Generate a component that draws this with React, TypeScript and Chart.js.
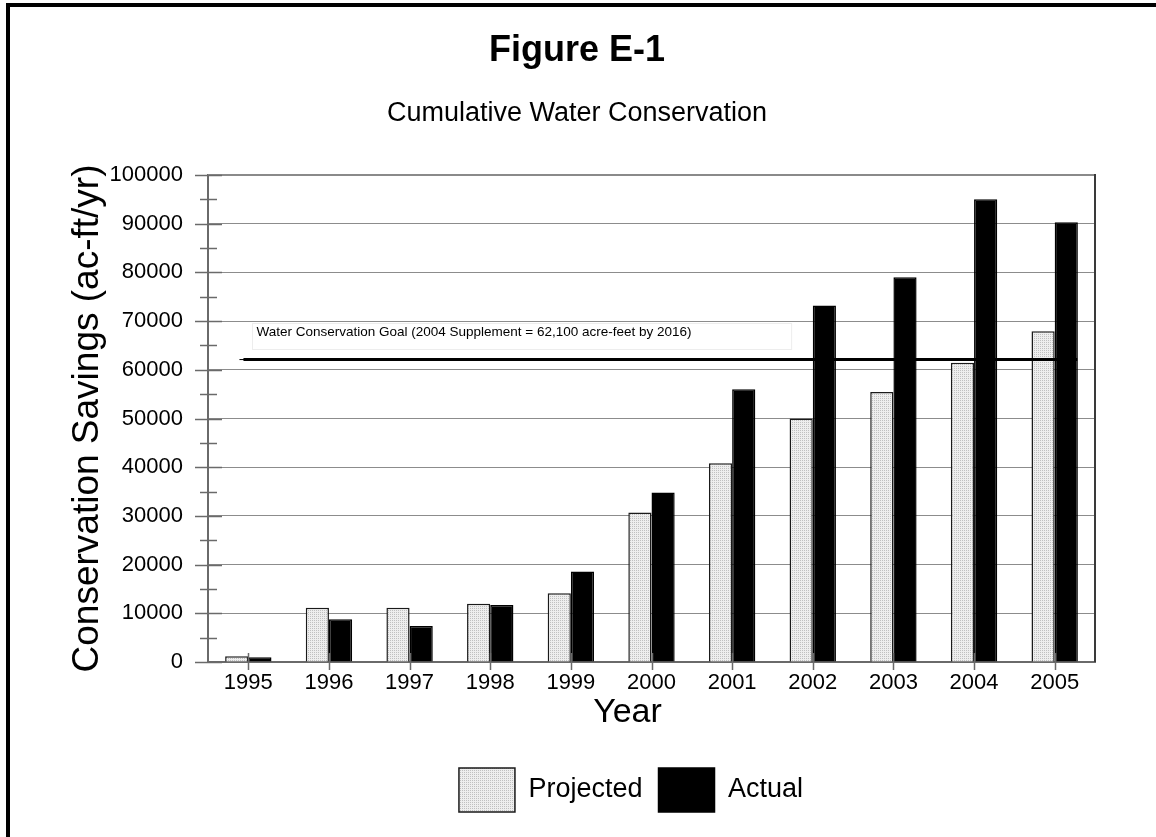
import React, { useEffect, useRef } from 'react';
import { Chart, registerables } from 'chart.js';

Chart.register(...registerables);

const YEARS = ['1995', '1996', '1997', '1998', '1999', '2000', '2001', '2002', '2003', '2004', '2005'];
const PROJECTED = [1200, 11150, 11150, 11950, 14100, 30700, 40800, 50000, 55450, 61450, 67900];
const ACTUAL = [1000, 8800, 7400, 11700, 18600, 34800, 56000, 73200, 79000, 95000, 90300];

const GOAL_VALUE = 62100;
const GOAL_START = -0.11;
const GOAL_END = 10.28;
const GOAL_LABEL = 'Water Conservation Goal (2004 Supplement = 62,100 acre-feet by 2016)';

const Y_MIN = 0;
const Y_MAX = 100000;
const Y_STEP = 10000;
const Y_MINOR_STEP = 5000;

const TITLE = 'Figure E-1';
const SUBTITLE = 'Cumulative Water Conservation';
const Y_TITLE = 'Conservation Savings (ac-ft/yr)';
const X_TITLE = 'Year';
const SERIES_NAMES = ['Projected', 'Actual'];

const FONT = '"Liberation Sans", Arial, Helvetica, sans-serif';

function makePattern(): CanvasPattern | string {
  const c = document.createElement('canvas');
  c.width = 2;
  c.height = 2;
  const g = c.getContext('2d');
  if (!g) return '#e2e2e2';
  g.fillStyle = '#eeeeee';
  g.fillRect(0, 0, 2, 2);
  g.fillStyle = '#c0c0c0';
  g.fillRect(0, 0, 1, 1);
  const p = g.createPattern(c, 'repeat');
  return p || '#e2e2e2';
}

const decorPlugin = {
  id: 'decor',
  afterLayout(chart: any) {
    const lg = chart.legend;
    if (lg) {
      lg.left += 54;
      lg.right += 54;
    }
  },
  afterDatasetsDraw(chart: any) {
    const { ctx } = chart;
    const x = chart.scales.x;
    const y = chart.scales.y;
    // goal line, positioned through the category / value scales
    const x0 = x.getPixelForValue(GOAL_START);
    const x1 = x.getPixelForValue(GOAL_END);
    const gy = y.getPixelForValue(GOAL_VALUE);
    ctx.save();
    ctx.strokeStyle = '#000';
    ctx.lineWidth = 1;
    ctx.beginPath();
    ctx.moveTo(x0, gy);
    ctx.lineTo(x0 + 6, gy);
    ctx.stroke();
    ctx.lineWidth = 3;
    ctx.beginPath();
    ctx.moveTo(x0 + 4, gy);
    ctx.lineTo(x1, gy);
    ctx.stroke();
    ctx.restore();
  },
  afterDraw(chart: any) {
    const { ctx, chartArea } = chart;
    const y = chart.scales.y;
    const x = chart.scales.x;
    ctx.save();
    // top & right frame
    ctx.lineWidth = 2;
    ctx.strokeStyle = '#8a8a8a';
    ctx.beginPath();
    ctx.moveTo(chartArea.left, chartArea.top);
    ctx.lineTo(chartArea.right, chartArea.top);
    ctx.stroke();
    ctx.strokeStyle = '#3a3a3a';
    ctx.beginPath();
    ctx.moveTo(chartArea.right, chartArea.top - 1);
    ctx.lineTo(chartArea.right, chartArea.bottom);
    ctx.stroke();

    // y ticks crossing the axis
    ctx.strokeStyle = '#6a6a6a';
    ctx.lineWidth = 1.5;
    for (let v = Y_MIN; v <= Y_MAX; v += Y_MINOR_STEP) {
      const py = Math.round(y.getPixelForValue(v)) + 0.5;
      const major = v % Y_STEP === 0;
      const a = major ? 13 : 8;
      const b = major ? 14 : 9;
      ctx.beginPath();
      ctx.moveTo(chartArea.left - a, py);
      ctx.lineTo(chartArea.left + b, py);
      ctx.stroke();
    }
    // x ticks crossing the axis
    for (let i = 0; i < YEARS.length; i++) {
      const px = Math.round(x.getPixelForValue(i)) + 0.5;
      ctx.beginPath();
      ctx.moveTo(px, chartArea.bottom - 9);
      ctx.lineTo(px, chartArea.bottom + 8);
      ctx.stroke();
    }

    // x axis title
    ctx.fillStyle = '#000';
    ctx.font = `34px ${FONT}`;
    ctx.textAlign = 'center';
    ctx.textBaseline = 'middle';
    ctx.fillText(X_TITLE, (chartArea.left + chartArea.right) / 2 - 24, chartArea.bottom + 51);

    // goal label
    const lx = x.getPixelForValue(GOAL_START) + 17;
    const ly = y.getPixelForValue(GOAL_VALUE) - 27;
    ctx.font = `13.5px ${FONT}`;
    ctx.textBaseline = 'middle';
    ctx.textAlign = 'left';
    const w = ctx.measureText(GOAL_LABEL).width;
    ctx.strokeStyle = '#ededed';
    ctx.lineWidth = 1;
    ctx.strokeRect(Math.round(lx - 4) + 0.5, Math.round(ly - 10) + 0.5, w + 104, 26);
    ctx.fillText(GOAL_LABEL, lx, ly);
    ctx.restore();
  },
};

export default function App() {
  const ref = useRef<HTMLCanvasElement | null>(null);

  useEffect(() => {
    if (!ref.current) return;
    Chart.defaults.color = '#000';
    Chart.defaults.font.family = FONT;
    const pattern = makePattern();

    const chart = new Chart(ref.current, {
      type: 'bar',
      data: {
        labels: YEARS,
        datasets: [
          {
            label: SERIES_NAMES[0],
            data: PROJECTED,
            backgroundColor: pattern as any,
            borderColor: '#1a1a1a',
            borderWidth: 1.5,
          },
          {
            label: SERIES_NAMES[1],
            data: ACTUAL,
            backgroundColor: '#000',
            borderColor: '#000',
            borderWidth: 1.5,
          },
        ],
      },
      options: {
        responsive: false,
        animation: false,
        events: [],
        layout: { padding: { left: 59, right: 61, top: 0, bottom: 15 } },
        datasets: {
          bar: { categoryPercentage: 0.575, barPercentage: 1.0 },
        },
        scales: {
          x: {
            type: 'category',
            offset: true,
            grid: { display: false, drawTicks: false },
            border: { display: true, color: '#6a6a6a', width: 2 },
            ticks: { font: { size: 22 }, padding: 8, color: '#000', maxRotation: 0 },
            afterFit: (s: any) => {
              s.height = 90;
            },
          },
          y: {
            min: Y_MIN,
            max: Y_MAX,
            ticks: {
              stepSize: Y_STEP,
              font: { size: 22 },
              padding: 25,
              color: '#000',
              callback: (v: any) => String(v),
            },
            grid: { color: '#8c8c8c', lineWidth: 1, drawTicks: false },
            border: { display: true, color: '#6a6a6a', width: 2 },
            title: {
              display: true,
              text: Y_TITLE,
              font: { size: 37 },
              padding: { top: 7, bottom: 0 },
              color: '#000',
            },
            afterFit: (s: any) => {
              s.width = 149;
            },
          },
        },
        plugins: {
          title: {
            display: true,
            text: TITLE,
            font: { size: 36, weight: 'bold' },
            color: '#000',
            padding: { top: 29, bottom: 12 },
          },
          subtitle: {
            display: true,
            text: SUBTITLE,
            font: { size: 27 },
            color: '#000',
            padding: { top: 13, bottom: 45.4 },
          },
          legend: {
            position: 'bottom',
            labels: {
              boxWidth: 56,
              boxHeight: 44,
              padding: 16,
              font: { size: 27 },
              color: '#000',
            },
          },
          tooltip: { enabled: false },
        },
      },
      plugins: [decorPlugin],
    });
    return () => chart.destroy();
  }, []);

  return (
    <div style={{ position: 'fixed', left: 0, top: 0, width: 1156, height: 837, background: '#fff' }}>
      <div
        style={{
          position: 'absolute',
          left: 6,
          top: 3,
          width: 1150,
          height: 834,
          borderTop: '4px solid #000',
          borderLeft: '4px solid #000',
          boxSizing: 'border-box',
        }}
      />
      <canvas ref={ref} width={1156} height={837} style={{ position: 'absolute', left: 0, top: 0 }} />
    </div>
  );
}
